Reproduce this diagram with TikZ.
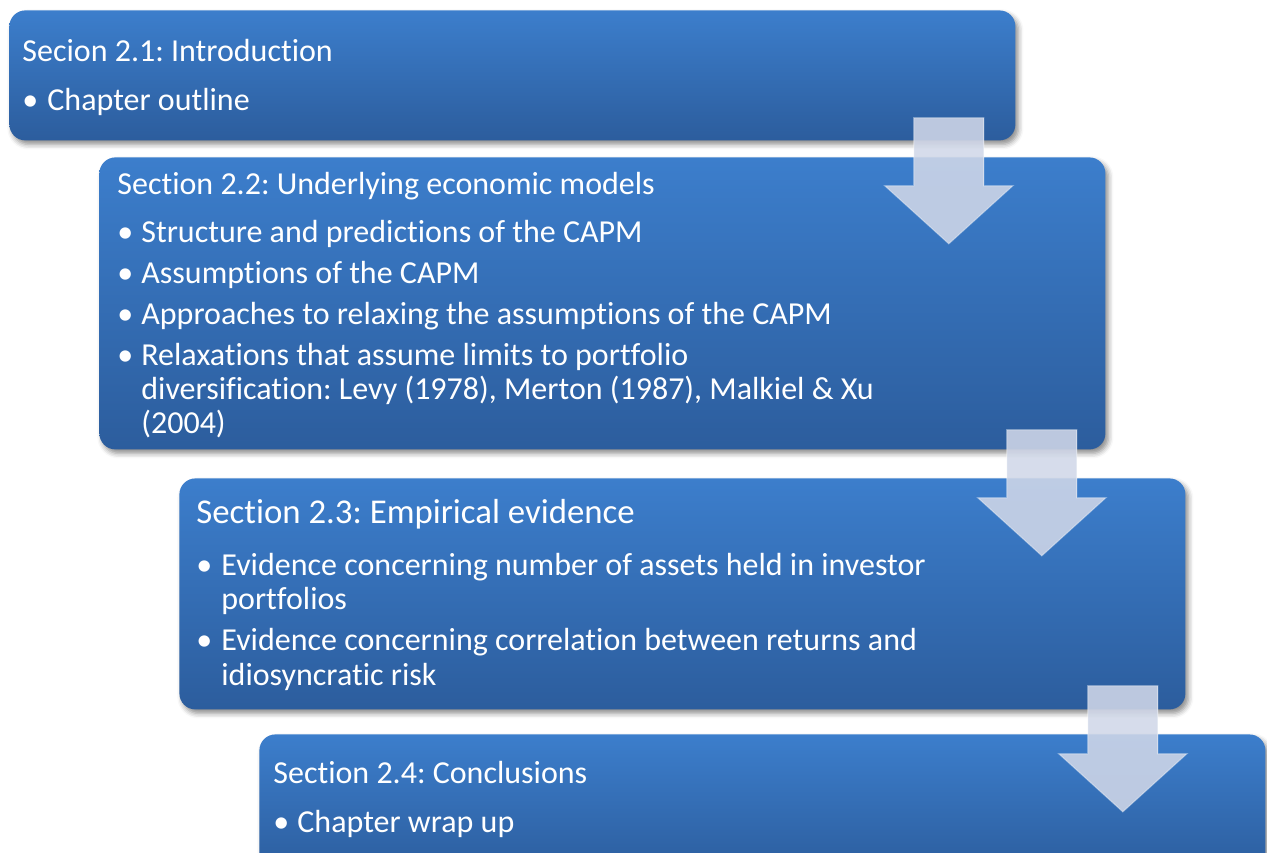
\documentclass[tikz,border=0pt]{standalone}
\usepackage{fontspec}
\setmainfont{Carlito}[Ligatures=NoCommon]
\usetikzlibrary{shadows.blur}

\definecolor{boxtop}{RGB}{60,126,204}
\definecolor{boxbottom}{RGB}{44,93,157}
\definecolor{arrowfill}{RGB}{208,215,232}

\frenchspacing
\begin{document}
\begin{tikzpicture}
[x=0.5pt,y=-0.5pt,
  stage/.style={rounded corners=8pt,top color=boxtop,bottom color=boxbottom,anchor=north west,inner sep=0pt,
    blur shadow={shadow xshift=1.5pt,shadow yshift=-2pt,shadow blur radius=2.5pt,shadow opacity=45}},
  txt/.style={anchor=base west,text=white,inner sep=0pt,font=\fontsize{16}{19}\selectfont},
  bigtxt/.style={txt,font=\fontsize{17.4}{21}\selectfont},
  flow/.style={fill=arrowfill,fill opacity=0.88,draw=white,draw opacity=0.35,line width=0.6pt}]
  \useasboundingbox (0,0) rectangle (1267,852);
  \clip (0,0) rectangle (1267,852);

  % the four stages
  \node[stage,minimum width=503pt,minimum height=65pt] (s1) at (9,10) {};
  \node[stage,minimum width=503pt,minimum height=146pt] (s2) at (99,157) {};
  \node[stage,minimum width=503pt,minimum height=115.5pt] (s3) at (179,478) {};
  \node[stage,minimum width=503pt,minimum height=70pt] (s4) at (259,734) {};

  % stage 1
  \node[txt] (h1) at (22,61) {Secion 2.1: Introduction};
  \node[txt] (p11) at (22,110) {•};
  \node[txt] (l11) at (47,110) {Chapter outline};

  % stage 2
  \node[txt] (h2) at (117,194) {Section 2.2: Underlying economic models};
  \node[txt] (p21) at (117,242) {•};
  \node[txt] (l21) at (141,242) {Structure and predictions of the CAPM};
  \node[txt] (p22) at (117,283) {•};
  \node[txt] (l22) at (141,283) {Assumptions of the CAPM};
  \node[txt] (p23) at (117,324) {•};
  \node[txt] (l23) at (141,324) {Approaches to relaxing the assumptions of the CAPM};
  \node[txt] (p24) at (117,365) {•};
  \node[txt] (l24) at (141,365) {Relaxations that assume limits to portfolio};
  \node[txt] (l24b) at (141,399) {diversification: Levy (1978), Merton (1987), Malkiel \& Xu};
  \node[txt] (l24c) at (141,433) {(2004)};

  % stage 3
  \node[bigtxt] (h3) at (196,523) {Section 2.3: Empirical evidence};
  \node[txt] (p31) at (196,575) {•};
  \node[txt] (l31) at (221,575) {Evidence concerning number of assets held in investor};
  \node[txt] (l31b) at (221,609) {portfolios};
  \node[txt] (p32) at (196,650) {•};
  \node[txt] (l32) at (221,650) {Evidence concerning correlation between returns and};
  \node[txt] (l32b) at (221,685) {idiosyncratic risk};

  % stage 4
  \node[txt] (h4) at (273,783) {Section 2.4: Conclusions};
  \node[txt] (p41) at (273,832) {•};
  \node[txt] (l41) at (297,832) {Chapter wrap up};

  % block arrows from one stage to the next
  \foreach \b/\dx/\dy in {s1/-67/-23, s2/-64/-20, s3/-63/-24}
  {
    \begin{scope}[shift={(\b.south east)}]
      \draw[flow] (\dx-35,\dy) -- (\dx+35,\dy) -- (\dx+35,\dy+68) -- (\dx+64,\dy+68)
        -- (\dx,\dy+126) -- (\dx-64,\dy+68) -- (\dx-35,\dy+68) -- cycle;
    \end{scope}
  }
\end{tikzpicture}
\end{document}
